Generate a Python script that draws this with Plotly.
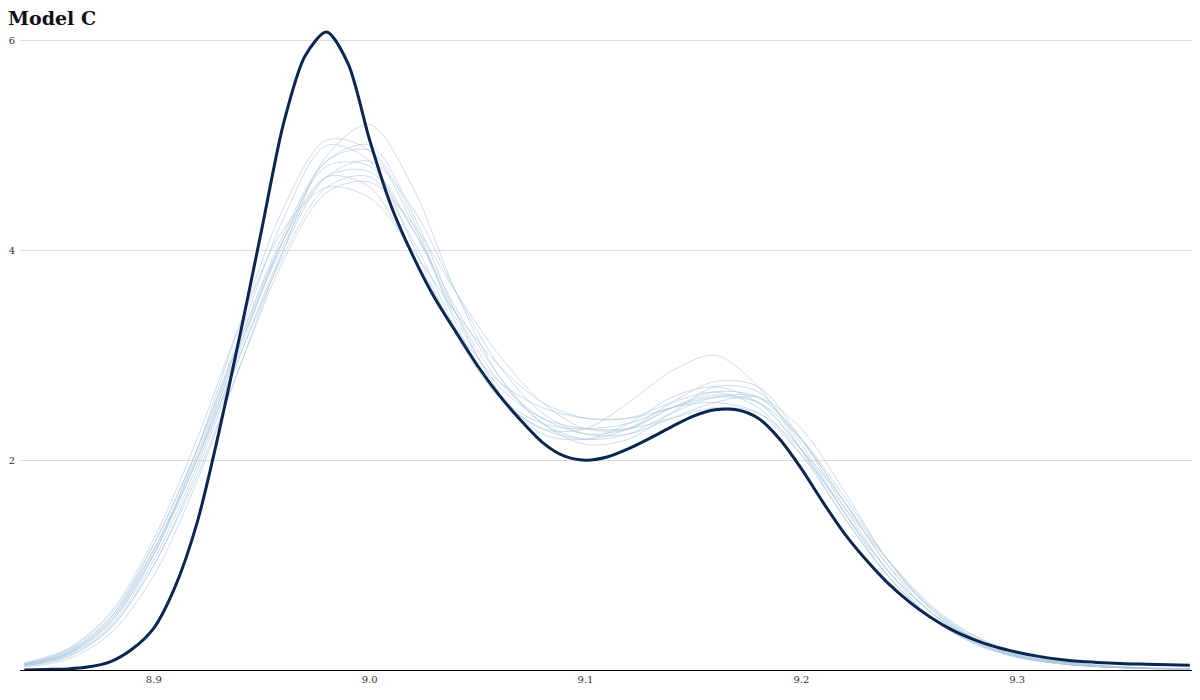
import plotly.graph_objects as go

x_grid = [round(8.84 + 0.02 * i, 2) for i in range(28)]
x_obs = [round(8.84 + 0.01 * i, 2) for i in range(55)]

observed = [0.0, 0.005, 0.01, 0.03, 0.08, 0.2, 0.4, 0.8, 1.4, 2.25, 3.2, 4.2, 5.2, 5.85, 6.08, 5.78,
            5.05, 4.42, 3.95, 3.55, 3.22, 2.9, 2.62, 2.38, 2.17, 2.04, 2.0, 2.03, 2.11, 2.21, 2.32,
            2.42, 2.48, 2.48, 2.4, 2.2, 1.92, 1.6, 1.3, 1.05, 0.83, 0.65, 0.5, 0.38, 0.29, 0.22,
            0.17, 0.13, 0.1, 0.08, 0.07, 0.06, 0.055, 0.05, 0.045]

replicates = [
    [0.04,0.14,0.42,1.05,1.95,3.05,4.1,4.8,4.8,4.2,3.4,2.75,2.4,2.25,2.3,2.5,2.62,2.55,2.1,1.5,0.95,0.55,0.3,0.15,0.08,0.04,0.02,0.01],
    [0.03,0.1,0.35,0.9,1.8,2.9,4.0,4.9,5.2,4.6,3.6,2.8,2.35,2.2,2.25,2.45,2.6,2.6,2.2,1.6,1.0,0.6,0.32,0.16,0.08,0.04,0.02,0.01],
    [0.07,0.2,0.55,1.25,2.2,3.3,4.2,4.6,4.5,4.0,3.4,2.9,2.55,2.4,2.4,2.55,2.65,2.5,2.05,1.45,0.9,0.5,0.27,0.13,0.06,0.03,0.015,0.01],
    [0.05,0.16,0.48,1.15,2.05,3.15,4.15,4.85,4.95,4.3,3.3,2.6,2.3,2.2,2.3,2.55,2.75,2.7,2.2,1.55,0.95,0.5,0.25,0.12,0.06,0.03,0.015,0.01],
    [0.05,0.15,0.45,1.1,2.0,3.0,3.95,4.6,4.7,4.1,3.25,2.6,2.3,2.3,2.55,2.85,3.0,2.7,2.1,1.45,0.9,0.5,0.26,0.12,0.06,0.03,0.015,0.01],
    [0.06,0.18,0.5,1.2,2.1,3.2,4.3,5.0,4.85,4.05,3.2,2.6,2.35,2.3,2.35,2.5,2.55,2.45,2.05,1.55,1.05,0.62,0.33,0.17,0.08,0.04,0.02,0.01],
    [0.04,0.12,0.4,1.0,1.9,3.0,4.0,4.7,4.85,4.4,3.6,2.9,2.45,2.25,2.25,2.4,2.55,2.6,2.3,1.7,1.05,0.58,0.3,0.14,0.07,0.03,0.015,0.01],
    [0.06,0.17,0.5,1.15,2.0,3.1,4.05,4.7,4.75,4.2,3.45,2.8,2.35,2.15,2.2,2.45,2.7,2.65,2.15,1.5,0.9,0.5,0.26,0.13,0.06,0.03,0.015,0.01],
    [0.05,0.15,0.45,1.1,2.1,3.3,4.4,5.05,4.95,4.25,3.35,2.7,2.4,2.3,2.3,2.4,2.5,2.45,2.1,1.6,1.05,0.6,0.3,0.14,0.07,0.03,0.015,0.01],
    [0.04,0.13,0.4,1.0,1.85,2.9,3.9,4.55,4.65,4.25,3.6,3.0,2.55,2.3,2.3,2.5,2.65,2.6,2.2,1.6,1.0,0.55,0.28,0.13,0.06,0.03,0.015,0.01],
    [0.05,0.16,0.47,1.12,2.02,3.1,4.1,4.85,5.0,4.35,3.4,2.65,2.25,2.2,2.35,2.6,2.7,2.55,2.1,1.5,0.95,0.55,0.28,0.13,0.06,0.03,0.015,0.01],
    [0.06,0.19,0.53,1.2,2.1,3.15,4.1,4.7,4.6,3.95,3.25,2.75,2.5,2.4,2.4,2.5,2.6,2.55,2.2,1.65,1.05,0.58,0.3,0.15,0.07,0.03,0.015,0.01],
]

x_ticks = [8.9, 9.0, 9.1, 9.2, 9.3]
x_tick_labels = ["8.9", "9.0", "9.1", "9.2", "9.3"]
y_ticks = [2, 4, 6]

fig = go.Figure()
for r in replicates:
    fig.add_trace(go.Scatter(x=x_grid, y=r, mode="lines",
                             line=dict(color="rgba(170,198,222,0.6)", width=1, shape="spline", smoothing=0.9),
                             hoverinfo="skip", showlegend=False))
fig.add_trace(go.Scatter(x=x_obs, y=observed, mode="lines",
                         line=dict(color="#0b2650", width=3, shape="spline", smoothing=0.8),
                         showlegend=False))

fig.update_layout(
    width=1200, height=700, plot_bgcolor="white", paper_bgcolor="white",
    margin=dict(l=12, r=16, t=22, b=38),
    title=dict(text="<b>Model C</b>", x=0.0, xanchor="left", y=0.995, yanchor="top",
               font=dict(family="DejaVu Serif", size=19, color="#111")),
    font=dict(family="DejaVu Serif", size=10, color="#333"),
    xaxis=dict(range=[8.838, 9.381], tickvals=x_ticks, ticktext=x_tick_labels,
               showgrid=False, zeroline=False, showline=True, linecolor="black", linewidth=1,
               ticks="", tickfont=dict(size=10), automargin=False),
    yaxis=dict(range=[0, 6.1], tickvals=y_ticks, showgrid=True, gridcolor="#dcdcdc",
               zeroline=False, ticks="", tickfont=dict(size=10), ticklabelstandoff=4,
               automargin=False),
)
fig.write_html("out.html")
